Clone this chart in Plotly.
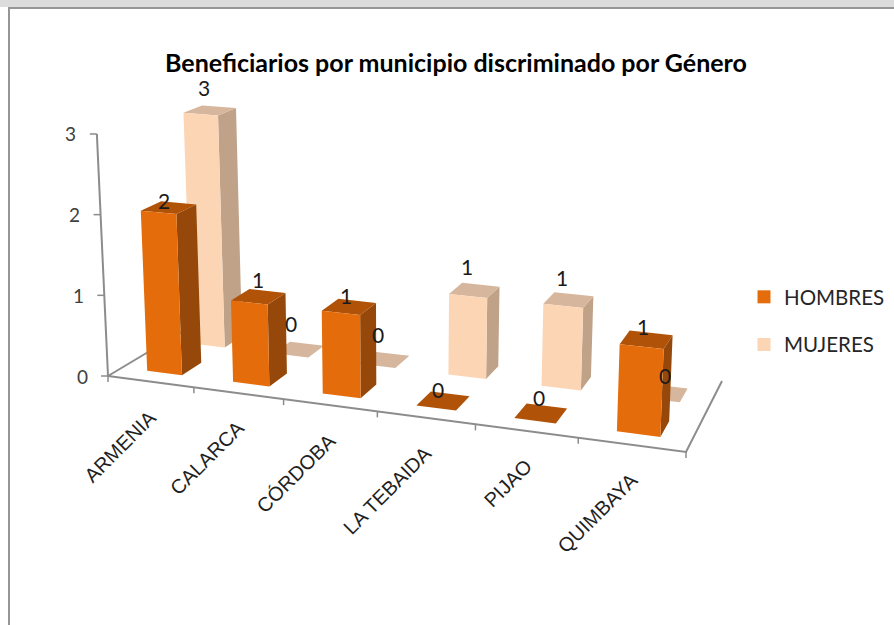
import numpy as np
import plotly.graph_objects as go

categories = ["ARMENIA", "CALARCA", "CÓRDOBA", "LA TEBAIDA", "PIJAO", "QUIMBAYA"]
hombres = [2, 1, 1, 0, 0, 1]
mujeres = [3, 0, 0, 1, 1, 0]
value_ticks = [0, 1, 2, 3]
title = "Beneficiarios por municipio discriminado por Género"

W, H = 894, 625
FLOOR = [(108, 376), (686, 452), (722, 381), (200, 321)]  # front-left, front-right, back-right, back-left


def solve_h(c):
    a, b = [], []
    for (u, v), (x, y) in zip([(0, 0), (1, 0), (1, 1), (0, 1)], c):
        a.append([u, v, 1, 0, 0, 0, -u * x, -v * x]); b.append(x)
        a.append([0, 0, 0, u, v, 1, -u * y, -v * y]); b.append(y)
    s = np.linalg.solve(np.array(a, float), np.array(b, float))
    return np.append(s, 1).reshape(3, 3)


HM = solve_h(FLOOR)


def proj(u, w, v=0.0):
    p = HM @ np.array([u / len(categories), w, 1.0])
    fx, fy = p[0] / p[2], p[1] / p[2]
    return fx + v * (fx - 400) * 0.0127, fy - v * (76.7 + 0.117 * (fy - 342))


BAR_U = (0.30, 0.71)
ROWS = {"HOMBRES": (0.14, 0.35), "MUJERES": (0.62, 0.83)}
COLORS = {
    "HOMBRES": dict(front="#E46C0A", side="#96480A", top="#B05208"),
    "MUJERES": dict(front="#FCD5B5", side="#BFA288", top="#D6B69C"),
}
LABEL_NUDGE = {
    "HOMBRES": [(-5, -7), (0, -17), (-3, -11), (-5, -11), (-2, -16), (-3, -13)],
    "MUJERES": [(-6, -23), (-8, -26), (-6, -25), (-7, -24), (-7, -23), (2, -17)],
}


def polys(values, u0s, face, w0, w1):
    xs, ys = [], []
    for c, val in zip(u0s, values):
        a, b = c + BAR_U[0], c + BAR_U[1]
        if face == "front":
            pts = [proj(a, w0), proj(b, w0), proj(b, w0, val), proj(a, w0, val)]
        elif face == "side":
            pts = [proj(b, w0), proj(b, w1), proj(b, w1, val), proj(b, w0, val)]
        else:
            pts = [proj(a, w0, val), proj(b, w0, val), proj(b, w1, val), proj(a, w1, val)]
        for x, y in pts + [pts[0]]:
            xs.append(x); ys.append(y)
        xs.append(None); ys.append(None)
    return xs, ys


fig = go.Figure()
AX = "#8C8C8C"


def line(pts, width=2):
    fig.add_trace(go.Scatter(x=[p[0] for p in pts], y=[p[1] for p in pts], mode="lines",
                             line=dict(color=AX, width=width), hoverinfo="skip", showlegend=False))


n = len(categories)
line([proj(0, 1), proj(0, 0), proj(n, 0), proj(n, 1)])
line([proj(0, 0), proj(0, 0, value_ticks[-1])])
for t in value_ticks:
    x, y = proj(0, 0, t)
    line([(x, y), (x - 7, y)], 1.5)
for i in range(n + 1):
    x, y = proj(i, 0)
    line([(x, y), (x, y + 6)], 1.5)

series = [("MUJERES", mujeres), ("HOMBRES", hombres)]
for name, vals in series:
    w0, w1 = ROWS[name]
    for face in ["side", "top", "front"]:
        xs, ys = polys(vals, range(n), face, w0, w1)
        fig.add_trace(go.Scatter(x=xs, y=ys, mode="lines", fill="toself",
                                 fillcolor=COLORS[name][face], line=dict(width=0, color=COLORS[name][face]),
                                 name=name, hoverinfo="name", showlegend=False))

for name, vals in [("HOMBRES", hombres), ("MUJERES", mujeres)]:
    fig.add_trace(go.Scatter(x=[None], y=[None], mode="markers", name=name, legendgroup=name,
                             marker=dict(symbol="square", size=13, color=COLORS[name]["front"])))

ann = []
for t in value_ticks:
    x, y = proj(0, 0, t)
    ann.append(dict(x=x - 26, y=y, text=str(t), showarrow=False, font=dict(family="Lato", size=19, color="#404040")))
for i, c in enumerate(categories):
    x, y = proj(i + 0.5, 0)
    ann.append(dict(x=x + 13, y=y + 21, text=c, showarrow=False, textangle=-45, xanchor="right", yanchor="top",
                    font=dict(family="Liberation Sans", size=20, color="#1F1F1F")))
for name, vals in series:
    w0, w1 = ROWS[name]
    for i, val in enumerate(vals):
        x, y = proj(i + sum(BAR_U) / 2, (w0 + w1) / 2, val)
        dx, dy = LABEL_NUDGE[name][i]
        ann.append(dict(x=x + dx, y=y + dy, text=str(val), showarrow=False,
                        font=dict(family="Lato", size=21, color="#1A1A1A")))
ann.append(dict(x=456, y=62, text="<b>" + title + "</b>", showarrow=False,
                font=dict(family="Lato", size=25, color="#000000")))

shapes = [
    dict(type="rect", x0=0, x1=W, y0=0, y1=7, fillcolor="#DCDCDC", line_width=0),
    dict(type="rect", x0=8, x1=W, y0=7, y1=9, fillcolor="#969696", line_width=0),
    dict(type="rect", x0=8, x1=10, y0=7, y1=H, fillcolor="#969696", line_width=0),
]

fig.update_layout(
    width=W, height=H, margin=dict(l=0, r=0, t=0, b=0),
    paper_bgcolor="white", plot_bgcolor="white",
    xaxis=dict(range=[0, W], visible=False, fixedrange=True),
    yaxis=dict(range=[H, 0], visible=False, fixedrange=True),
    annotations=ann, shapes=shapes,
    legend=dict(x=744 / W, y=1 - 277 / H, xanchor="left", yanchor="top", tracegroupgap=18,
                font=dict(family="Lato", size=20.5, color="#262626"), bgcolor="rgba(0,0,0,0)",
                itemclick=False, itemdoubleclick=False),
    showlegend=True,
)
fig.write_html("out.html", config={"displayModeBar": False},
               post_script="document.body.style.margin='0';document.body.style.overflow='hidden';")
